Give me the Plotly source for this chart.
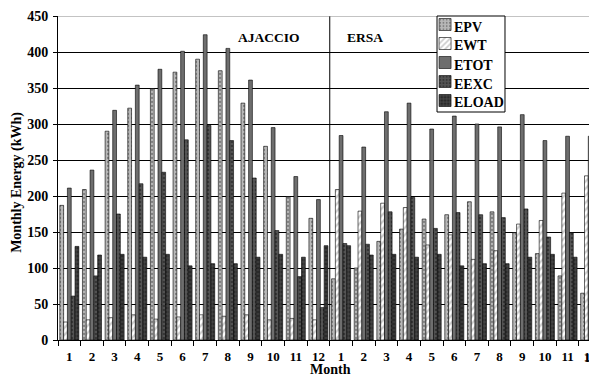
import plotly.graph_objects as go

months = [str(m) for m in range(1, 13)]
sites = ["AJACCIO", "ERSA"]
categories = [f"{s}-{m}" for s in sites for m in months]
tick_labels = months + months

EPV = [187, 209, 290, 322, 349, 372, 390, 374, 329, 269, 199, 169,
       85, 100, 137, 154, 168, 174, 192, 178, 149, 120, 89, 65]
EWT = [25, 28, 31, 35, 29, 32, 35, 33, 35, 28, 30, 28,
       209, 179, 190, 184, 132, 146, 112, 124, 161, 166, 204, 228]
ETOT = [211, 236, 319, 354, 376, 401, 424, 405, 361, 295, 227, 195,
        284, 268, 317, 329, 293, 311, 300, 296, 313, 277, 283, 283]
EEXC = [61, 89, 175, 217, 233, 278, 298, 277, 225, 152, 88, 45,
        134, 133, 178, 198, 155, 177, 174, 170, 182, 143, 149, 126]
ELOAD = [130, 118, 119, 115, 119, 103, 106, 106, 115, 119, 115, 131,
         131, 118, 119, 115, 119, 103, 106, 106, 115, 119, 115, 131]

series = [
    ("EPV", EPV, dict(color="#b8b8b8", pattern=dict(shape=".", fgcolor="#444", size=4, solidity=0.25))),
    ("EWT", EWT, dict(color="#ffffff", pattern=dict(shape="/", fgcolor="#9a9a9a", bgcolor="#ffffff", size=5, solidity=0.45))),
    ("ETOT", ETOT, dict(color="#6e6e6e")),
    ("EEXC", EEXC, dict(color="#555555", pattern=dict(shape=".", fgcolor="#1a1a1a", size=4, solidity=0.35))),
    ("ELOAD", ELOAD, dict(color="#2a2a2a", pattern=dict(shape="+", fgcolor="#8a8a8a", size=4, solidity=0.3))),
]

font_family = "Liberation Serif"
fig = go.Figure()
for name, vals, mk in series:
    fig.add_trace(go.Bar(
        x=categories, y=vals, name=" ",
        hovertemplate=name + ": %{y}<extra></extra>",
        marker=dict(**mk, line=dict(color="#000000", width=0.6)),
    ))

# page has an 8px body margin: figure is drawn from (8, 8)
PLOT_H = 324.0
fig.update_layout(
    width=589, height=368,
    margin=dict(l=50, r=0, t=8, b=36, autoexpand=False),
    paper_bgcolor="white", plot_bgcolor="white",
    barmode="group", bargap=0.16, bargroupgap=0,
    font=dict(family=font_family, size=14, color="black"),
    # legend provides the patterned swatches; its labels are annotations
    legend=dict(
        x=0.681, y=1 + 6 / PLOT_H, xanchor="left", yanchor="top",
        bgcolor="rgba(0,0,0,0)", borderwidth=0,
        font=dict(family=font_family, size=12, color="black"),
        itemwidth=30, tracegroupgap=0,
    ),
    showlegend=True,
)
fig.update_xaxes(
    type="category", automargin=False,
    categoryorder="array", categoryarray=categories,
    tickmode="array", tickvals=categories, ticktext=["<b>%s</b>" % t for t in tick_labels],
    tickson="boundaries", ticks="outside", ticklen=5, tickcolor="black",
    ticklabelstandoff=4, tickangle=0,
    showline=True, linecolor="black", linewidth=1,
    range=[-0.5, 23.30],
    tickfont=dict(family=font_family, size=13, color="black"),
)
fig.update_yaxes(
    automargin=False,
    range=[0, 450], dtick=50, tick0=0, tickprefix="<b>", ticksuffix="</b>",
    showgrid=True, gridcolor="black", gridwidth=1,
    ticks="outside", ticklen=4, tickcolor="black", ticklabelstandoff=2,
    showline=True, linecolor="black", linewidth=1,
    zeroline=False,
    tickfont=dict(family=font_family, size=14, color="black"),
)

# the last category is cut by the right edge, so its boundary tick is out of range
# and plotly drops its label; draw that label at the same place
fig.add_annotation(x=len(categories) - 1, y=0, xref="x", yref="y", yanchor="middle", yshift=-17,
                   text="<b>%s</b>" % tick_labels[-1], showarrow=False,
                   font=dict(family=font_family, size=13, color="black"))

fig.add_shape(type="line", xref="x", yref="y", x0=11.5, x1=11.5, y0=0, y1=450,
              line=dict(color="black", width=1))
fig.add_shape(type="line", xref="paper", yref="y", x0=0, x1=1, y0=450, y1=450,
              line=dict(color="#888888", width=1))

# legend box
fig.add_shape(type="rect", xref="paper", yref="paper", layer="above",
              x0=0.7032, x1=0.8293, y0=(324 - 96) / PLOT_H, y1=1.0,
              fillcolor="white", line=dict(color="black", width=1))
for i, (name, _, _) in enumerate(series):
    fig.add_annotation(x=0.731, y=(324 - 11 - 19 * i) / PLOT_H, xref="paper", yref="paper",
                       xanchor="left", yanchor="middle", text="<b>%s</b>" % name,
                       showarrow=False, font=dict(family=font_family, size=14, color="black"))

fig.add_annotation(x=8.83, y=420, xref="x", yref="y", text="<b>AJACCIO</b>", showarrow=False,
                   font=dict(family=font_family, size=13.5, color="black"))
fig.add_annotation(x=13.05, y=420, xref="x", yref="y", text="<b>ERSA</b>", showarrow=False,
                   font=dict(family=font_family, size=13.5, color="black"))

# axis titles
fig.add_annotation(x=0.505, y=0, xref="paper", yref="paper", yanchor="middle", yshift=-29,
                   text="<b>Month</b>", showarrow=False,
                   font=dict(family=font_family, size=14, color="black"))
fig.add_annotation(x=0, y=0.485, xref="paper", yref="paper", xanchor="center", xshift=-41,
                   textangle=-90, text="<b>Monthly Energy (kWh)</b>", showarrow=False,
                   font=dict(family=font_family, size=14, color="black"))

fig.write_html("out.html")
